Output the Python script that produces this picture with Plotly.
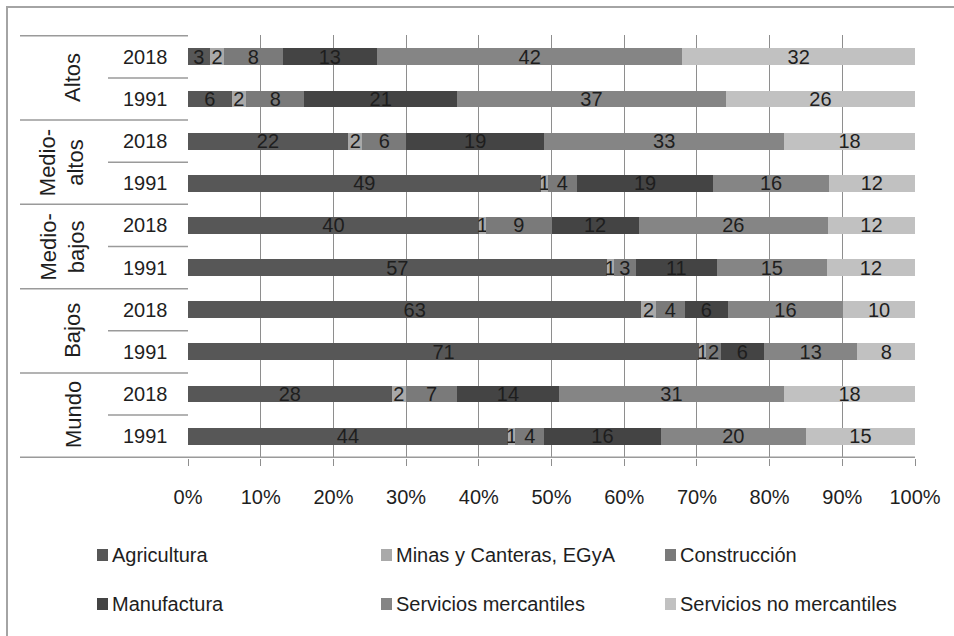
import plotly.graph_objects as go

# Employment structure by sector (% of total), income groups, 1991 vs 2018
groups = ["Altos", "Medio-altos", "Medio-bajos", "Bajos", "Mundo"]
group_labels = ["Altos", "Medio-<br>altos", "Medio-<br>bajos", "Bajos", "Mundo"]
years = ["2018", "1991"]

sectors = ["Agricultura", "Minas y Canteras, EGyA", "Construcción",
           "Manufactura", "Servicios mercantiles", "Servicios no mercantiles"]
colors = ["#575757", "#a9a9a9", "#7a7a7a", "#444444", "#858585", "#c1c1c1"]

# one list per sector, rows ordered top to bottom:
# Altos 2018, Altos 1991, Medio-altos 2018, Medio-altos 1991, Medio-bajos 2018,
# Medio-bajos 1991, Bajos 2018, Bajos 1991, Mundo 2018, Mundo 1991
agricultura = [3, 6, 22, 49, 40, 57, 63, 71, 28, 44]
minas = [2, 2, 2, 1, 1, 1, 2, 1, 2, 1]
construccion = [8, 8, 6, 4, 9, 3, 4, 2, 7, 4]
manufactura = [13, 21, 19, 19, 12, 11, 6, 6, 14, 16]
serv_mercantiles = [42, 37, 33, 16, 26, 15, 16, 13, 31, 20]
serv_no_mercantiles = [32, 26, 18, 12, 12, 12, 10, 8, 18, 15]

series = [agricultura, minas, construccion, manufactura,
          serv_mercantiles, serv_no_mercantiles]

rows = [f"{g} {y}" for g in groups for y in years]

W, H = 954, 636
FONT = "Liberation Sans, Arial, sans-serif"
TXT = "#1e1e1e"
LINE = "#9a9a9a"

fig = go.Figure()
for name, vals, col in zip(sectors, series, colors):
    fig.add_trace(go.Bar(
        y=rows, x=vals, name=name, orientation="h",
        marker=dict(color=col, line=dict(width=0)),
        text=[str(v) for v in vals], texttemplate="%{text}",
        textposition="inside", insidetextanchor="middle", textangle=0,
        constraintext="none",
        textfont=dict(family=FONT, size=20, color=TXT),
        width=0.4, showlegend=False,
    ))

x0p, x1p = 188 / W, 915 / W
ytop, ybot = 35, 458

fig.update_layout(
    width=W, height=H, barmode="stack", barnorm="percent",
    margin=dict(l=0, r=0, t=0, b=0, autoexpand=False),
    paper_bgcolor="white", plot_bgcolor="white",
    font=dict(family=FONT, size=20, color=TXT),
    xaxis=dict(domain=[x0p, x1p], range=[0, 100], dtick=10, automargin=False,
               ticksuffix="%", showgrid=True, gridcolor="#8e8e8e", gridwidth=1,
               zeroline=False, ticks="outside", ticklen=7, tickcolor="#8e8e8e",
               ticklabelstandoff=14, showline=False,
               tickfont=dict(family=FONT, size=20, color=TXT)),
    yaxis=dict(domain=[1 - ybot / H, 1 - ytop / H], autorange="reversed",
               showticklabels=False, showgrid=False, zeroline=False,
               automargin=False, range=[9.5, -0.5]),
)

shapes = []
annotations = []

# outer frame
shapes.append(dict(type="rect", xref="paper", yref="paper",
                   x0=7 / W, x1=1.02, y0=-0.02, y1=1 - 7 / H,
                   line=dict(color="#a4a4a4", width=2)))

# category axis: group boundaries and within-group separators
for k in range(len(groups) + 1):
    yb = 2 * k - 0.5
    shapes.append(dict(type="line", xref="paper", yref="y",
                       x0=20 / W, x1=(915 / W if k == len(groups) else x0p),
                       y0=yb, y1=yb, line=dict(color=LINE, width=1.5)))
for k in range(len(groups)):
    yb = 2 * k + 0.5
    shapes.append(dict(type="line", xref="paper", yref="y",
                       x0=108 / W, x1=x0p, y0=yb, y1=yb,
                       line=dict(color=LINE, width=1.5)))

# year labels
for i, r in enumerate(rows):
    annotations.append(dict(xref="paper", yref="y", x=145 / W, y=i,
                            text=r.split(" ")[1], showarrow=False,
                            xanchor="center", yanchor="middle",
                            font=dict(family=FONT, size=20, color=TXT)))

# group labels, rotated
for k, lab in enumerate(group_labels):
    xc = 62 if "<br>" in lab else 73
    annotations.append(dict(xref="paper", yref="y", x=xc / W, y=2 * k + 0.5,
                            text=lab, textangle=-90, showarrow=False,
                            xanchor="center", yanchor="middle",
                            font=dict(family=FONT, size=22, color=TXT)))

# legend, two rows of three entries
leg_x = [97, 381, 665]
leg_y = [555, 604]
for idx, (name, col) in enumerate(zip(sectors, colors)):
    r, c = divmod(idx, 3)
    sx, sy = leg_x[c], leg_y[r]
    shapes.append(dict(type="rect", xref="paper", yref="paper",
                       x0=sx / W, x1=(sx + 11) / W,
                       y0=1 - (sy + 6) / H, y1=1 - (sy - 6) / H,
                       fillcolor=col, line=dict(width=0)))
    annotations.append(dict(xref="paper", yref="paper",
                            x=(sx + 13) / W, y=1 - sy / H, text=name,
                            showarrow=False, xanchor="left", yanchor="middle",
                            font=dict(family=FONT, size=20, color=TXT)))

fig.update_layout(shapes=shapes, annotations=annotations)
fig.write_html("out.html")
